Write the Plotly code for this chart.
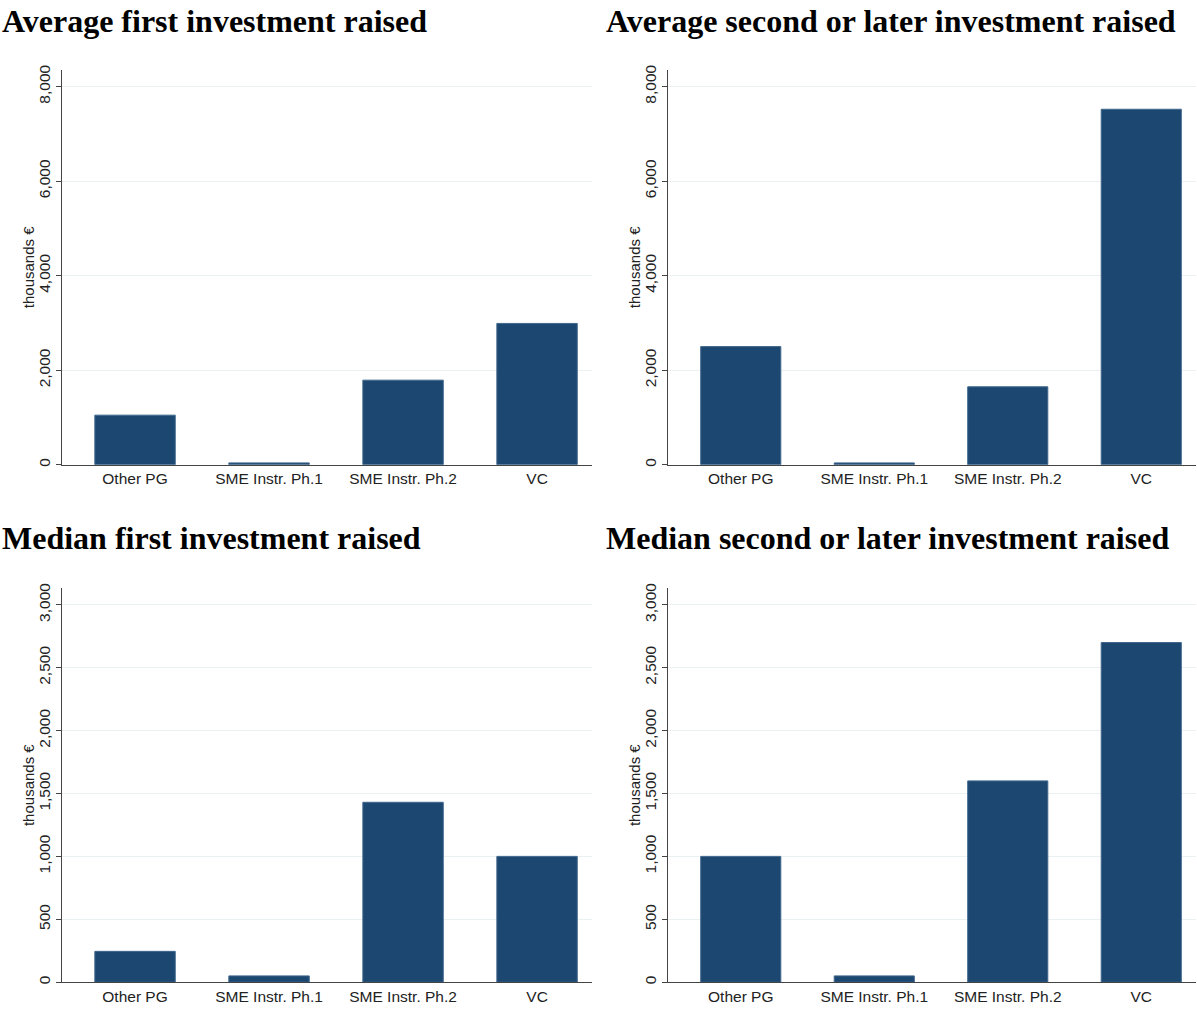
import plotly.graph_objects as go
from plotly.subplots import make_subplots

categories = ["Other PG", "SME Instr. Ph.1", "SME Instr. Ph.2", "VC"]
avg_first = [1050, 40, 1790, 2990]
avg_later = [2500, 40, 1650, 7520]
med_first = [245, 50, 1430, 1000]
med_later = [1000, 50, 1600, 2700]

titles = ["Average first investment raised", "Average second or later investment raised",
          "Median first investment raised", "Median second or later investment raised"]

W, H = 1197, 1011
BAR = "#1c4770"

fig = make_subplots(rows=2, cols=2)

panels = [(avg_first, 1, 1), (avg_later, 1, 2), (med_first, 2, 1), (med_later, 2, 2)]
for vals, r, c in panels:
    fig.add_trace(go.Bar(x=categories, y=vals, marker=dict(color=BAR, line=dict(color="#3f678c", width=1)),
                         showlegend=False, hoverinfo="skip"), row=r, col=c)

# pixel geometry -> paper domains
xdom = {1: (62 / W, 592 / W), 2: (668 / W, 1196 / W)}
ydom = {1: (1 - 463 / H, 1 - 65 / H), 2: (1 - 984 / H, 1 - 587 / H)}
yspec = {1: dict(range=[0, 8360], dtick=2000), 2: dict(range=[0, 3134], dtick=500)}

tickfont = dict(family="Liberation Sans, Arial", size=15.5, color="#222")
for i, (vals, r, c) in enumerate(panels):
    n = "" if i == 0 else str(i + 1)
    fig.layout["xaxis" + n].update(domain=xdom[c], range=[-0.545, 3.41], showline=True, linecolor="#444",
                                   linewidth=1, ticks="", tickfont=tickfont, showgrid=False)
    fig.layout["yaxis" + n].update(domain=ydom[r], range=yspec[r]["range"], dtick=yspec[r]["dtick"],
                                   tickformat=",", tickangle=-90, showline=True, linecolor="#444", linewidth=1,
                                   ticks="outside", ticklen=5, tickcolor="#444", tickfont=tickfont,
                                   showgrid=True, gridcolor="#eaf1f2", gridwidth=1, zeroline=False)
    # y axis title placed by hand, close to the tick labels
    fig.add_annotation(text="thousands €", textangle=-90, xref="paper", yref="paper",
                       x=(xdom[c][0] * W - 34) / W, y=sum(ydom[r]) / 2, xanchor="center", yanchor="middle",
                       showarrow=False, font=dict(family="Liberation Sans, Arial", size=15, color="#222"))

title_pos = [(0.0, 1 + 4 / H), (604 / W, 1 + 4 / H), (0.0, 1 - 517 / H), (604 / W, 1 - 517 / H)]
for t, (x, y) in zip(titles, title_pos):
    fig.add_annotation(text="<b>" + t + "</b>", xref="paper", yref="paper", x=x, y=y, xanchor="left",
                       yanchor="top", showarrow=False,
                       font=dict(family="Liberation Serif, Times New Roman", size=32, color="#000"))

fig.update_layout(width=W, height=H, margin=dict(l=0, r=0, t=0, b=0), bargap=0.4,
                  plot_bgcolor="white", paper_bgcolor="white")

pin = ("var d=document.getElementById('{plot_id}');d.style.position='fixed';d.style.top='0px';"
       "d.style.left='0px';document.body.style.margin='0px';")
fig.write_html("out.html", config={"displayModeBar": False}, post_script=pin)
